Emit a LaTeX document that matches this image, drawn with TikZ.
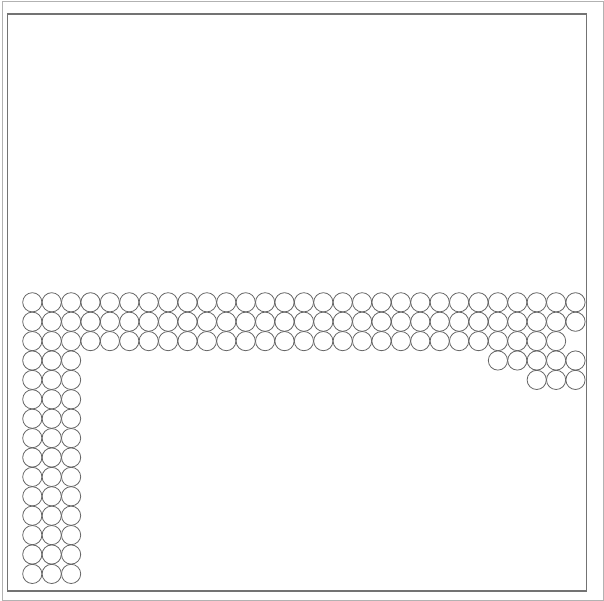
\documentclass[tikz,border=0pt]{standalone}
\begin{document}
\begin{tikzpicture}[x=1pt,y=-1pt,
  ball/.style={circle,draw=black!60,line width=0.8pt,minimum size=19.2pt,inner sep=0pt},
  frameout/.style={draw=black!30,line width=0.9pt},
  framein/.style={draw=black!55,line width=1.1pt}]
\useasboundingbox (0,0) rectangle (604,601);
\draw[frameout] (2.7,1.2) rectangle (603,600);
\draw[framein] (7.4,14) rectangle (586.5,591);
\def\sx{32.3}\def\sy{302.3}\def\dd{19.4}
% rows 0 and 1: full width
\foreach \j in {0,1}{
  \foreach \i in {0,...,28}{
    \node[ball] (c-\i-\j) at ({\sx+\i*\dd},{\sy+\j*\dd}) {};
  }
}
% row 2
\foreach \i in {0,...,27}{
  \node[ball] (c-\i-2) at ({\sx+\i*\dd},{\sy+2*\dd}) {};
}
% row 3 right part
\foreach \i in {24,...,28}{
  \node[ball] (c-\i-3) at ({\sx+\i*\dd},{\sy+3*\dd}) {};
}
% row 4 right part
\foreach \i in {26,...,28}{
  \node[ball] (c-\i-4) at ({\sx+\i*\dd},{\sy+4*\dd}) {};
}
% left columns rows 3..14
\foreach \j in {3,...,14}{
  \foreach \i in {0,1,2}{
    \node[ball] (c-\i-\j) at ({\sx+\i*\dd},{\sy+\j*\dd}) {};
  }
}
\end{tikzpicture}
\end{document}
